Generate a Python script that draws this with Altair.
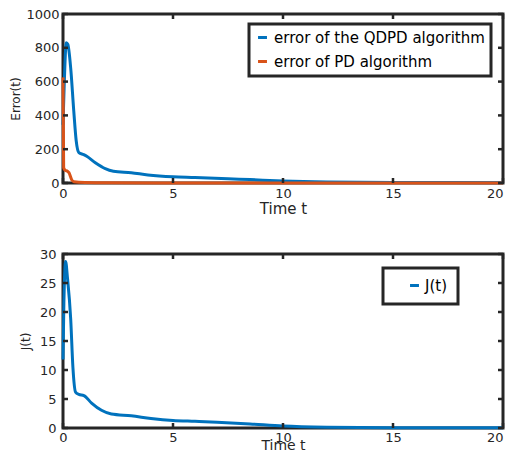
import altair as alt
import pandas as pd

# ---- data ----
t_qdpd = [0, 0.05, 0.15, 0.22, 0.35, 0.49, 0.6, 0.72, 0.94, 1.08, 1.47, 1.92, 2.29, 3.1, 3.86, 5, 6, 7.5, 8.5, 10, 12, 15, 20]
err_qdpd = [345, 560, 830, 820, 680, 425, 250, 180, 168, 158, 120, 85, 70, 61, 48, 37, 33, 25, 20, 12, 6, 3, 2]

t_pd = [0, 0.03, 0.1, 0.2, 0.27, 0.4, 0.5, 1, 2, 5, 10, 20]
err_pd = [625, 90, 75, 70, 61, 18, 8, 3, 1, 0.5, 0.2, 0]

t_j = [0, 0.04, 0.12, 0.2, 0.35, 0.45, 0.57, 0.72, 0.95, 1.3, 1.75, 2.2, 3.1, 4, 5, 6, 7, 8.5, 10, 12, 15, 20]
j_vals = [11.8, 21.5, 28.7, 26, 18.8, 10.5, 6.2, 5.8, 5.6, 4.3, 3.05, 2.4, 2.1, 1.65, 1.3, 1.15, 1.0, 0.7, 0.35, 0.15, 0.06, 0.03]

x_ticks = [0, 5, 10, 15, 20]
err_ticks = [0, 200, 400, 600, 800, 1000]
j_ticks = [0, 5, 10, 15, 20, 25, 30]

series_names = ["error of the QDPD algorithm", "error of PD algorithm"]
j_name = ["J(t)"]
colors = ["#0072BD", "#D95319"]

# ---- styling ----
W, H1, H2 = 440, 169, 174
FONT = "DejaVu Sans"
INK = "#262626"
TL = 5  # inward tick length

err_df = pd.concat([
    pd.DataFrame({"t": t_qdpd, "v": err_qdpd, "s": series_names[0], "o": 0}),
    pd.DataFrame({"t": t_pd, "v": err_pd, "s": series_names[1], "o": 1}),
])
j_df = pd.DataFrame({"t": t_j, "v": j_vals, "s": j_name[0]})
xt_df = pd.DataFrame({"t": x_ticks})
et_df = pd.DataFrame({"v": err_ticks})
jt_df = pd.DataFrame({"v": j_ticks})

xscale = alt.Scale(domain=[0, 20], nice=False, zero=False)


def x_axis(label_pad, title_pad, title_size):
    return alt.Axis(values=x_ticks, tickSize=0, domain=False, grid=False,
                    labelPadding=label_pad, labelFont=FONT, labelFontSize=13, labelColor=INK,
                    labelAlign={"expr": "datum.value >= 20 ? 'right' : 'center'"},
                    title="Time t", titleFont=FONT, titleFontSize=title_size, titleFontWeight="normal",
                    titleColor=INK, titlePadding=title_pad, labelFlush=False)


def y_axis(title, vals, label_pad, title_pad):
    return alt.Axis(values=vals, tickSize=0, domain=False, grid=False, format="d",
                    labelPadding=label_pad, labelFont=FONT, labelFontSize=13, labelColor=INK,
                    title=title, titleFont=FONT, titleFontSize=12, titleFontWeight="normal",
                    titleColor=INK, titlePadding=title_pad, labelFlush=False)


def tick_layers(yscale, yticks_df, H, xax, yax):
    bx = alt.X("t:Q", scale=xscale, axis=xax)
    by = alt.Y("v:Q", scale=yscale, axis=yax)
    st = dict(color=INK, strokeWidth=2.5)
    return [
        alt.Chart(xt_df).mark_rule(**st).encode(x=bx, y=alt.value(H), y2=alt.value(H - TL)),
        alt.Chart(xt_df).mark_rule(**st).encode(x=bx, y=alt.value(0), y2=alt.value(TL)),
        alt.Chart(yticks_df).mark_rule(**st).encode(y=by, x=alt.value(0), x2=alt.value(TL)),
        alt.Chart(yticks_df).mark_rule(**st).encode(y=by, x=alt.value(W), x2=alt.value(W - TL)),
    ]


# ---- top panel ----
escale = alt.Scale(domain=[0, 1000], nice=False)
xa_top = x_axis(4, 1, 15)
ya_top = y_axis("Error(t)", err_ticks, 4, 3)
err_lines = alt.Chart(err_df).mark_line(strokeWidth=3, interpolate="monotone").encode(
    x=alt.X("t:Q", scale=xscale, axis=xa_top),
    y=alt.Y("v:Q", scale=escale, axis=ya_top),
    color=alt.Color("s:N", scale=alt.Scale(domain=series_names, range=colors),
                    legend=alt.Legend(orient="none", legendX=186, legendY=10, title=None,
                                      fillColor="white", strokeColor=INK, padding=6,
                                      labelFont=FONT, labelFontSize=15, labelColor="black",
                                      labelLimit=400,
                                      symbolType="stroke", symbolStrokeWidth=3, symbolSize=80,
                                      rowPadding=8, labelOffset=4)),
    order=alt.Order("o:Q"),
)
top = alt.layer(err_lines, *tick_layers(escale, et_df, H1, xa_top, ya_top)).properties(width=W, height=H1)

# ---- bottom panel ----
jscale = alt.Scale(domain=[0, 30], nice=False)
xa_bot = x_axis(3, -6, 14)
ya_bot = y_axis("J(t)", j_ticks, 7, 7)
j_line = alt.Chart(j_df).mark_line(strokeWidth=3, interpolate="monotone").encode(
    x=alt.X("t:Q", scale=xscale, axis=xa_bot),
    y=alt.Y("v:Q", scale=jscale, axis=ya_bot),
    color=alt.Color("s:N", scale=alt.Scale(domain=j_name, range=[colors[0]]),
                    legend=alt.Legend(orient="none", legendX=320, legendY=14, title=None,
                                      fillColor="white", strokeColor=INK, padding=10,
                                      labelFont=FONT, labelFontSize=15, labelColor="black",
                                      symbolType="stroke", symbolStrokeWidth=3, symbolSize=80,
                                      symbolOffset=14, labelOffset=3)),
)
bottom = alt.layer(j_line, *tick_layers(jscale, jt_df, H2, xa_bot, ya_bot)).properties(width=W, height=H2)

chart = alt.vconcat(top, bottom, spacing=28).resolve_scale(color="independent").properties(
    padding={"left": 0, "top": -2, "right": -2, "bottom": -4}
).configure_view(stroke=INK, strokeWidth=3).configure_legend(strokeWidth=3)

chart.save("out.html", embed_options={"renderer": "svg", "actions": False})
